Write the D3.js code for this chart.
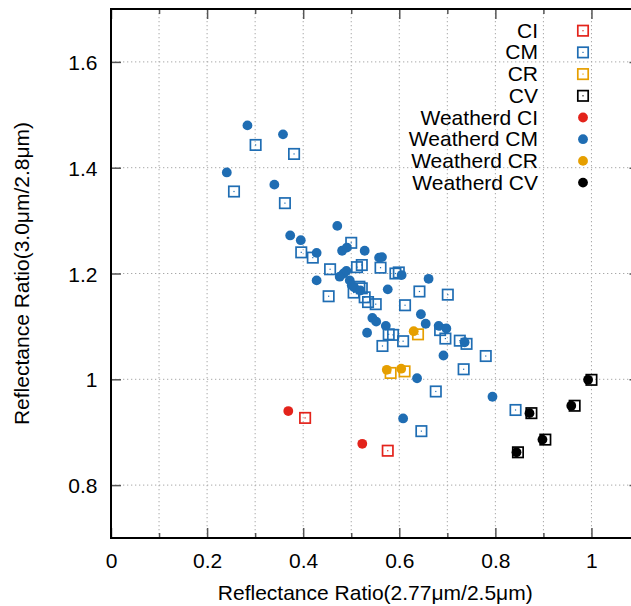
<!DOCTYPE html>
<html>
<head>
<meta charset="utf-8">
<script src="https://cdn.jsdelivr.net/npm/d3@7"></script>
<style>
  html, body { margin: 0; padding: 0; background: #fff; }
  svg { display: block; }
  text { font-family: "Liberation Sans", Arial, Helvetica, sans-serif; fill: #000; }
</style>
</head>
<body>
<svg id="chart" width="631" height="606"></svg>
<script>
// Reflectance ratios: x = R(2.77um)/R(2.5um), y = R(3.0um)/R(2.8um)
const ciFresh = [[0.404, 0.927], [0.576, 0.865]];
const cmFresh = [
  [0.301, 1.443], [0.381, 1.426], [0.256, 1.355], [0.362, 1.333], [0.500, 1.258],
  [0.396, 1.240], [0.420, 1.230], [0.512, 1.212], [0.522, 1.216], [0.561, 1.211],
  [0.456, 1.208], [0.592, 1.200], [0.599, 1.202], [0.517, 1.175], [0.522, 1.172],
  [0.505, 1.164], [0.453, 1.157], [0.528, 1.155], [0.535, 1.146], [0.551, 1.142],
  [0.578, 1.085], [0.587, 1.084], [0.565, 1.063], [0.642, 1.166], [0.701, 1.160],
  [0.612, 1.140], [0.685, 1.093], [0.608, 1.072], [0.696, 1.077], [0.726, 1.073],
  [0.740, 1.067], [0.780, 1.044], [0.734, 1.019], [0.676, 0.977], [0.842, 0.942],
  [0.646, 0.902]
];
const crFresh = [[0.639, 1.085], [0.582, 1.012], [0.611, 1.015]];
const cvFresh = [[0.875, 0.936], [0.847, 0.862], [1.000, 0.999], [0.965, 0.950], [0.904, 0.886]];

const ciWeathered = [[0.369, 0.940], [0.523, 0.878]];
const cmWeathered = [
  [0.284, 1.480], [0.358, 1.463], [0.241, 1.391], [0.340, 1.368], [0.471, 1.290],
  [0.373, 1.272], [0.395, 1.263], [0.528, 1.243], [0.481, 1.243], [0.491, 1.249],
  [0.428, 1.239], [0.558, 1.230], [0.564, 1.231], [0.490, 1.205], [0.484, 1.200],
  [0.476, 1.194], [0.428, 1.187], [0.497, 1.187], [0.501, 1.178], [0.506, 1.174],
  [0.576, 1.170], [0.519, 1.168], [0.544, 1.116], [0.552, 1.109], [0.572, 1.101],
  [0.533, 1.088], [0.605, 1.197], [0.661, 1.190], [0.645, 1.123], [0.655, 1.105],
  [0.682, 1.101], [0.698, 1.096], [0.736, 1.070], [0.692, 1.045], [0.637, 1.002],
  [0.794, 0.967], [0.608, 0.926]
];
const crWeathered = [[0.630, 1.091], [0.574, 1.018], [0.604, 1.020]];
const cvWeathered = [[0.871, 0.936], [0.844, 0.862], [0.993, 0.999], [0.958, 0.950], [0.898, 0.886]];

const seriesNames = ["CI", "CM", "CR", "CV", "Weatherd CI", "Weatherd CM", "Weatherd CR", "Weatherd CV"];
const seriesColors = ["#e3231b", "#1f6db3", "#e69f00", "#000000", "#e3231b", "#1f6db3", "#e69f00", "#000000"];
const seriesData = [ciFresh, cmFresh, crFresh, cvFresh, ciWeathered, cmWeathered, crWeathered, cvWeathered];

const xDomain = [0, 1.1];
const yDomain = [0.7, 1.7];
const xMajorTicks = [0, 0.2, 0.4, 0.6, 0.8, 1];
const xMinorTicks = [0.1, 0.3, 0.5, 0.7, 0.9];
const xGridTicks = [0.1, 0.2, 0.3, 0.4, 0.5, 0.6, 0.7, 0.8, 0.9, 1.0];
const yMajorTicks = [0.8, 1, 1.2, 1.4, 1.6];

const xTitle = "Reflectance Ratio(2.77\u03bcm/2.5\u03bcm)";
const yTitle = "Reflectance Ratio(3.0\u03bcm/2.8\u03bcm)";

// ---- layout ----
const svg = d3.select("#chart");
const plotL = 111, plotR = 639.5, plotT = 9, plotB = 538;
const x = d3.scaleLinear().domain(xDomain).range([plotL, plotR]);
const y = d3.scaleLinear().domain(yDomain).range([plotB, plotT]);
const fmt = d => String(+d.toFixed(1));
const FS = 21;

// dotted grid
const grid = svg.append("g").attr("stroke", "#a8a8a8").attr("stroke-width", 1)
  .attr("stroke-dasharray", "1.3,2.7").attr("fill", "none");
grid.selectAll("line.gx").data(xGridTicks).join("line")
  .attr("x1", d => x(d)).attr("x2", d => x(d)).attr("y1", plotT).attr("y2", plotB);
grid.selectAll("line.gy").data(yMajorTicks).join("line")
  .attr("x1", plotL).attr("x2", plotR).attr("y1", d => y(d)).attr("y2", d => y(d));

// axes with inward ticks
function styleAxis(g) {
  g.select(".domain").remove();
  g.selectAll(".tick line").attr("stroke", "#555").attr("stroke-width", 1.5);
  g.selectAll("text").attr("font-size", FS).attr("font-family", "Liberation Sans, Arial, sans-serif").attr("fill", "#000");
}
const gxB = svg.append("g").attr("transform", `translate(0,${plotB})`)
  .call(d3.axisBottom(x).tickValues(xMajorTicks).tickSize(-10).tickFormat(fmt));
styleAxis(gxB);
gxB.selectAll("text").attr("y", 29.5).attr("dy", 0);
svg.append("g").attr("transform", `translate(0,${plotB})`)
  .call(d3.axisBottom(x).tickValues(xMinorTicks).tickSize(-5).tickFormat(""))
  .call(styleAxis);
svg.append("g").attr("transform", `translate(0,${plotT})`)
  .call(d3.axisTop(x).tickValues(xMajorTicks).tickSize(-10).tickFormat(""))
  .call(styleAxis);
svg.append("g").attr("transform", `translate(0,${plotT})`)
  .call(d3.axisTop(x).tickValues(xMinorTicks).tickSize(-5).tickFormat(""))
  .call(styleAxis);
const gyL = svg.append("g").attr("transform", `translate(${plotL},0)`)
  .call(d3.axisLeft(y).tickValues(yMajorTicks).tickSize(-10).tickFormat(fmt));
styleAxis(gyL);
gyL.selectAll("text").attr("x", -13.5).attr("dy", 0).attr("y", 7.5);
svg.append("g").attr("transform", `translate(${plotR},0)`)
  .call(d3.axisRight(y).tickValues(yMajorTicks).tickSize(-10).tickFormat(""))
  .call(styleAxis);

// frame
svg.append("rect").attr("x", plotL).attr("y", plotT).attr("width", plotR - plotL).attr("height", plotB - plotT)
  .attr("fill", "none").attr("stroke", "#000").attr("stroke-width", 2);

// axis titles
svg.append("text").attr("x", (plotL + plotR) / 2).attr("y", 599.5).attr("text-anchor", "middle")
  .attr("font-size", FS).text(xTitle);
svg.append("text").attr("transform", `translate(29,${(plotT + plotB) / 2}) rotate(-90)`)
  .attr("text-anchor", "middle").attr("font-size", FS).text(yTitle);

// markers
const SQ = 10.4, R = 4.9;
function openSquare(g, px, py, color) {
  g.append("rect").attr("x", px - SQ / 2).attr("y", py - SQ / 2).attr("width", SQ).attr("height", SQ)
    .attr("fill", "none").attr("stroke", color).attr("stroke-width", 1.7);
  g.append("rect").attr("x", px - 0.6).attr("y", py - 0.6).attr("width", 1.2).attr("height", 1.2)
    .attr("fill", color);
}
function dot(g, px, py, color) {
  g.append("circle").attr("cx", px).attr("cy", py).attr("r", R).attr("fill", color);
}

const plot = svg.append("g");
seriesData.forEach((pts, i) => {
  const g = plot.append("g");
  pts.forEach(p => {
    if (i < 4) openSquare(g, x(p[0]), y(p[1]), seriesColors[i]);
    else dot(g, x(p[0]), y(p[1]), seriesColors[i]);
  });
});

// legend
const legend = svg.append("g");
seriesNames.forEach((name, i) => {
  const cy = 30.7 + i * 21.7;
  legend.append("text").attr("x", 538).attr("y", cy + 7).attr("text-anchor", "end")
    .attr("font-size", FS).text(name);
  if (i < 4) openSquare(legend, 583, cy, seriesColors[i]);
  else dot(legend, 583, cy, seriesColors[i]);
});
</script>
</body>
</html>
